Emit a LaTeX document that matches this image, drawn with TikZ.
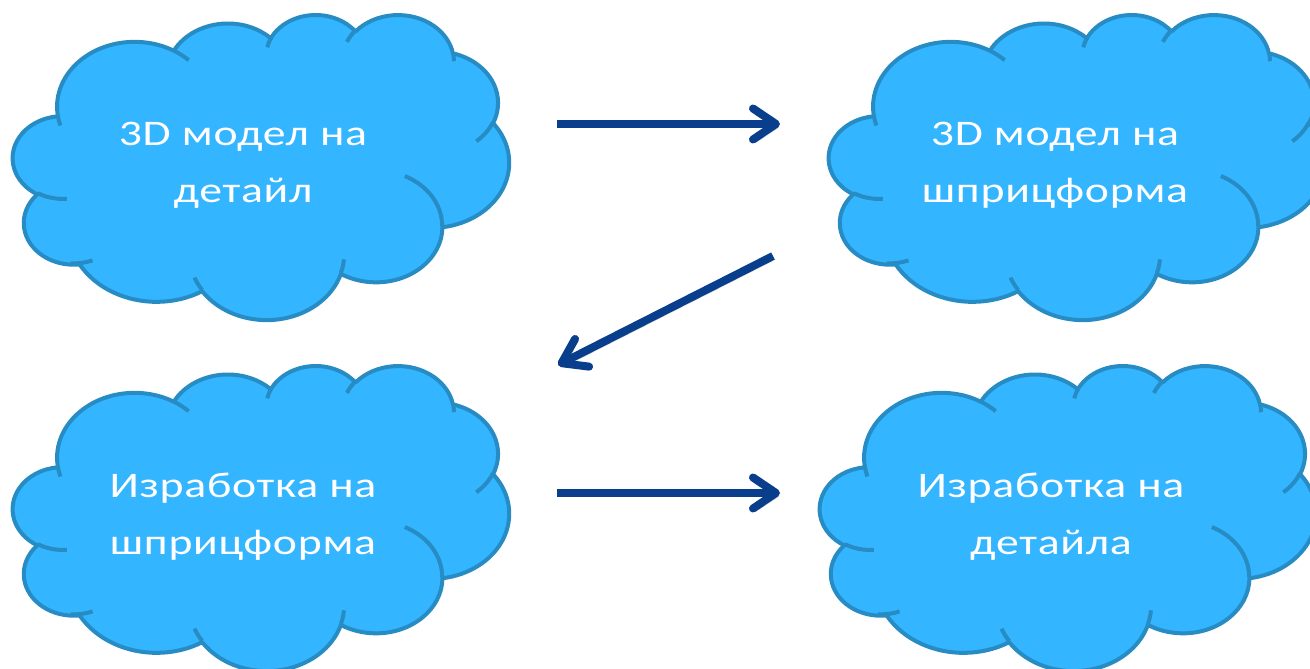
\documentclass[tikz,border=0pt]{standalone}
\usepackage{fontspec}
\setmainfont{Carlito}[FakeStretch=1.27, LetterSpace=2]
\usetikzlibrary{arrows.meta}
\definecolor{cloudfill}{RGB}{51,181,255}
\definecolor{cloudline}{RGB}{40,140,196}
\definecolor{arrowblue}{RGB}{8,62,140}
\newcommand\cldarc[4]{arc[x radius=#1, y radius=#2, start angle={atan2((#1)*sin(#3),(#2)*cos(#3))}, delta angle={mod(atan2((#1)*sin((#3)+(#4)),(#2)*cos((#3)+(#4)))-atan2((#1)*sin(#3),(#2)*cos(#3))+720,360)}]}
\newcommand\cloudat[2]{%
 \begin{scope}[shift={(#1,#2)}, xscale=496/43.2, yscale=305/43.2]
  \filldraw[cloudbody] (3.900,14.370)
   \cldarc{6.753}{9.190}{-190.4875}{123.7805}
   \cldarc{5.333}{7.267}{-144.1024}{89.9452}
   \cldarc{4.365}{5.945}{-145.8079}{99.7230}
   \cldarc{4.857}{6.595}{-130.9861}{117.2417}
   \cldarc{5.333}{7.273}{-78.7089}{109.0269}
   \cldarc{6.775}{9.220}{-46.2673}{130.2690}
   \cldarc{5.785}{7.867}{0.6250}{114.0333}
   \cldarc{6.752}{9.215}{22.4516}{115.1726}
   \cldarc{7.720}{10.543}{66.2426}{75.7110}
   \cldarc{4.360}{5.918}{-274.9421}{146.7356}
   \cldarc{4.345}{5.945}{-246.8285}{152.5189} -- cycle;
  \draw[cloudinner]
   (4.693,26.177) \cldarc{4.345}{5.945}{86.7420}{26.4295}
   (6.928,34.899) \cldarc{4.360}{5.918}{73.6026}{19.1393}
   (16.478,39.090) \cldarc{6.752}{9.215}{137.6242}{14.0811}
   (28.827,34.751) \cldarc{6.752}{9.215}{6.4533}{15.9984}
   (34.129,22.954) \cldarc{5.785}{7.867}{-70.2924}{70.9174}
   (41.798,15.354) \cldarc{5.333}{7.273}{30.3180}{27.7515}
   (38.324,5.426) \cldarc{4.857}{6.595}{-13.7443}{14.8589}
   (29.078,3.952) \cldarc{4.857}{6.595}{-149.1815}{18.1954}
   (22.141,4.720) \cldarc{4.365}{5.945}{-163.4943}{17.6864}
   (14.000,5.192) \cldarc{6.753}{9.190}{-66.7070}{12.3194}
   (4.127,15.789) \cldarc{6.753}{9.190}{157.6544}{11.8582};
 \end{scope}}
\tikzset{
 cloudbody/.style={fill=cloudfill, draw=cloudline, line width=4pt, line join=round},
 cloudinner/.style={draw=cloudline, line width=4pt},
 cloudtext/.style={text=white, font=\fontsize{36}{57}\selectfont, align=center, anchor=base, inner sep=0pt},
 flow/.style={draw=arrowblue, line width=8pt, -{Straight Barb[length=23pt, width=31pt, round]},
   preaction={draw=black, opacity=0.18, transform canvas={shift={(2.5pt,-3.5pt)}}}}
}
\begin{document}
\begin{tikzpicture}[x=1pt, y=-1pt]
 \useasboundingbox (0,0) rectangle (1310,669);
 \clip (0,0) rectangle (1310,669);
 \cloudat{13}{14}
 \cloudat{829}{14}
 \cloudat{13}{365}
 \cloudat{820}{365}
 \node[cloudtext] (c1) at (243,202) {3D модел на\\детайл};
 \node[cloudtext] (c2) at (1055,202) {3D модел на\\шприцформа};
 \node[cloudtext] (c3) at (243,554) {Изработка на\\шприцформа};
 \node[cloudtext] (c4) at (1051,554) {Изработка на\\детайла};
 \coordinate (a1s) at (557,124);
 \coordinate (a1e) at (780,124);
 \coordinate (a2s) at (773,256);
 \coordinate (a2e) at (558,365);
 \coordinate (a3s) at (557,493);
 \coordinate (a3e) at (780,493);
 \draw[flow] (a1s) -- (a1e);
 \draw[flow] (a2s) -- (a2e);
 \draw[flow] (a3s) -- (a3e);
\end{tikzpicture}
\end{document}
